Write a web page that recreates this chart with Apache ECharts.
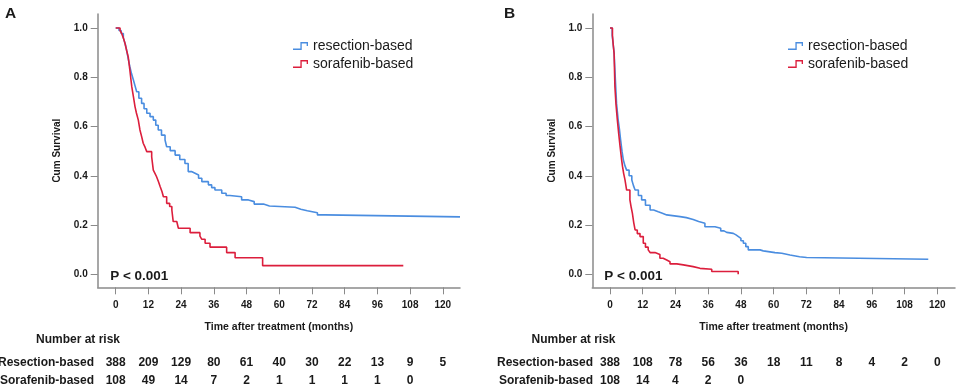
<!DOCTYPE html>
<html>
<head>
<meta charset="utf-8">
<script src="https://cdn.jsdelivr.net/npm/echarts@6/dist/echarts.min.js"></script>
<style>
html,body{margin:0;padding:0;background:#fff;}
#main{width:957px;height:390px;}
</style>
</head>
<body>
<div id="main"></div>
<script>
// ---------- data ----------
const seriesNames = ['resection-based', 'sorafenib-based'];
const xTicks = [0, 12, 24, 36, 48, 60, 72, 84, 96, 108, 120];
const yTicks = [0, 0.2, 0.4, 0.6, 0.8, 1.0];
const xTitle = 'Time after treatment (months)';
const yTitle = 'Cum Survival';
const pText = 'P < 0.001';
const panelLabels = ['A', 'B'];
const riskRowLabels = ['Resection-based', 'Sorafenib-based'];

// Panel A: Kaplan-Meier steps [months, survival]
const resectionA = [
  [0,1.0],[1.2,0.99],[2.0,0.978],[2.8,0.96],[3.5,0.935],[4.0,0.91],[4.6,0.875],[5.2,0.843],
  [5.8,0.815],[6.5,0.789],[7.1,0.765],[7.7,0.741],[8.5,0.715],[9.5,0.694],[10.4,0.672],
  [11.4,0.654],[12.6,0.64],[13.8,0.626],[14.7,0.605],[15.6,0.586],[16.8,0.565],[18.1,0.545],
  [18.7,0.518],[20.0,0.502],[21.8,0.484],[23.5,0.466],[25.4,0.45],[26.6,0.417],[27.8,0.41],
  [29.1,0.403],[30.4,0.39],[31.6,0.376],[34.0,0.363],[35.2,0.352],[36.4,0.342],[38.9,0.329],
  [40.5,0.32],[41.9,0.315],[46.2,0.302],[48.7,0.295],[50.8,0.285],[54.2,0.277],[56.4,0.272],
  [65.8,0.264],[67.9,0.258],[70.3,0.25],[74.0,0.241],[76.8,0.233],[126.3,0.233]
];
const sorafenibA = [
  [0,1.0],[1.6,0.99],[2.2,0.978],[2.8,0.96],[3.4,0.938],[4.0,0.91],[4.6,0.883],[5.2,0.829],
  [5.6,0.79],[5.9,0.762],[6.5,0.721],[7.1,0.68],[7.6,0.655],[8.3,0.626],[8.9,0.586],[9.5,0.56],
  [10.1,0.532],[10.8,0.515],[11.4,0.498],[13.2,0.477],[13.8,0.423],[14.4,0.41],[15.0,0.396],
  [15.7,0.376],[16.3,0.356],[17.0,0.335],[17.5,0.315],[18.7,0.288],[19.8,0.275],[20.6,0.261],
  [21.1,0.214],[22.4,0.207],[23.0,0.187],[27.3,0.169],[30.9,0.155],[31.6,0.142],[32.8,0.126],
  [34.6,0.11],[40.7,0.088],[43.8,0.067],[53.9,0.035],[105.5,0.035]
];
// Panel B
const resectionB = [
  [0,1.0],[0.8,0.97],[1.2,0.93],[1.5,0.9],[1.8,0.829],[2.1,0.76],[2.4,0.694],[2.7,0.66],
  [3.0,0.626],[3.5,0.585],[3.9,0.545],[4.4,0.5],[4.9,0.464],[5.5,0.44],[6.1,0.423],[7.0,0.4],
  [8.0,0.383],[8.6,0.36],[9.2,0.342],[10.4,0.32],[11.6,0.302],[13.0,0.28],[14.7,0.261],
  [16.0,0.254],[17.7,0.248],[19.2,0.241],[20.8,0.234],[25.7,0.23],[28.0,0.222],[30.5,0.214],
  [32.5,0.207],[34.8,0.193],[38.5,0.187],[40.6,0.176],[41.8,0.17],[42.8,0.166],[45.2,0.16],
  [46.2,0.153],[47.1,0.146],[48.0,0.136],[48.9,0.126],[49.8,0.112],[50.7,0.099],[55.0,0.095],
  [56.2,0.088],[60.5,0.085],[63.0,0.078],[66.0,0.071],[69.5,0.068],[72.1,0.061],[116.7,0.061]
];
const sorafenibB = [
  [0,1.0],[0.9,0.97],[1.2,0.93],[1.5,0.897],[1.8,0.762],[2.2,0.69],[2.7,0.626],[3.2,0.57],
  [3.7,0.518],[4.2,0.47],[4.6,0.437],[5.0,0.41],[5.5,0.383],[6.1,0.342],[7.3,0.302],[7.8,0.27],
  [8.2,0.248],[8.7,0.21],[9.2,0.18],[10.0,0.165],[11.0,0.153],[12.2,0.126],[13.0,0.11],
  [14.0,0.099],[14.7,0.088],[16.5,0.08],[18.3,0.065],[19.5,0.058],[20.8,0.051],[22.0,0.042],
  [24.5,0.038],[26.9,0.031],[30.5,0.024],[33.0,0.02],[37.3,0.011],[47.0,0.0]
];

// Number at risk
const riskTimesA = [0, 12, 24, 36, 48, 60, 72, 84, 96, 108, 120];
const riskResectionA = [388, 209, 129, 80, 61, 40, 30, 22, 13, 9, 5];
const riskSorafenibA = [108, 49, 14, 7, 2, 1, 1, 1, 1, 0];
const riskTimesB = [0, 12, 24, 36, 48, 60, 72, 84, 96, 108, 120];
const riskResectionB = [388, 108, 78, 56, 36, 18, 11, 8, 4, 2, 0];
const riskSorafenibB = [108, 14, 4, 2, 0];

// ---------- chart ----------
const FONT = '"Liberation Sans", Arial, sans-serif';
const BLUE = '#4a8de0';
const RED = '#dc1e3c';
const AXIS = '#8a8a8a';
const TXT = '#1a1a1a';

const chart = echarts.init(document.getElementById('main'), null, {renderer: 'canvas'});

const grids = [
  {left: 97.7, top: 14, width: 362.3, height: 273.3},
  {left: 592.3, top: 14, width: 362.7, height: 273.3}
];
const xRanges = [[-6.6, 126.3], [-6.49, 126.5]];

function xAxisDef(i) {
  return {
    type: 'value', gridIndex: i, min: xRanges[i][0], max: xRanges[i][1],
    splitLine: {show: false},
    axisLine: {show: true, onZero: false, lineStyle: {color: AXIS, width: 1.5}},
    axisTick: {show: true, length: 7, lineStyle: {color: AXIS, width: 1}, customValues: xTicks},
    axisLabel: {customValues: xTicks, margin: 13, fontSize: 10, fontWeight: 'bold', color: TXT, fontFamily: FONT},
    name: xTitle, nameLocation: 'middle', nameGap: 34,
    nameTextStyle: {fontSize: 10.5, fontWeight: 'bold', color: TXT, fontFamily: FONT}
  };
}
function yAxisDef(i) {
  return {
    type: 'value', gridIndex: i, min: -0.053, max: 1.057,
    splitLine: {show: false},
    axisLine: {show: true, onZero: false, lineStyle: {color: AXIS, width: 1.5}},
    axisTick: {show: true, length: 7, lineStyle: {color: AXIS, width: 1}, customValues: yTicks},
    axisLabel: {customValues: yTicks, margin: 10, fontSize: 10, fontWeight: 'bold', color: TXT, fontFamily: FONT,
      formatter: v => v.toFixed(1)},
    name: yTitle, nameLocation: 'middle', nameGap: 35, nameRotate: 90,
    nameTextStyle: {fontSize: 10, fontWeight: 'bold', color: TXT, fontFamily: FONT}
  };
}
function km(name, data, i, color) {
  return {
    name: name, type: 'line', step: 'end', xAxisIndex: i, yAxisIndex: i,
    data: data, showSymbol: false, symbol: 'none', animation: false,
    lineStyle: {color: color, width: 1.6}, itemStyle: {color: color}
  };
}
const stepIcon = 'path://M0,7.25 L8.25,7.25 L8.25,0 L16.75,0 L16.75,4.5 L15.25,4.5 L15.25,1.5 L9.75,1.5 L9.75,8.75 L0,8.75 Z';
function legendDef(left) {
  return {
    left: left, top: 34, orient: 'vertical', itemGap: 4, itemWidth: 15, itemHeight: 9,
    icon: stepIcon, data: seriesNames, selectedMode: false,
    itemStyle: {borderWidth: 0},
    textStyle: {fontSize: 14, color: TXT, fontFamily: FONT}
  };
}

const option = {
  animation: false,
  backgroundColor: '#fff',
  grid: grids.map(g => Object.assign({containLabel: false, outerBoundsMode: 'none'}, g)),
  xAxis: [xAxisDef(0), xAxisDef(1)],
  yAxis: [yAxisDef(0), yAxisDef(1)],
  legend: [legendDef(288), legendDef(783)],
  series: [
    km(seriesNames[0], resectionA, 0, BLUE),
    km(seriesNames[1], sorafenibA, 0, RED),
    km(seriesNames[0], resectionB, 1, BLUE),
    km(seriesNames[1], sorafenibB, 1, RED)
  ]
};
chart.setOption(option);

// text overlay positioned from the axes
const graphics = [];
function txt(x, y, text, size, align, weight) {
  graphics.push({type: 'text', x: x, y: y, silent: true,
    style: {text: text, fontSize: size, fontWeight: weight || 'bold', fill: TXT, fontFamily: FONT,
      align: align || 'left', verticalAlign: 'middle'}});
}
txt(5, 14, panelLabels[0], 15.5);
txt(504, 14, panelLabels[1], 15.5);
const pPosA = chart.convertToPixel({gridIndex: 0}, [0, 0]);
const pPosB = chart.convertToPixel({gridIndex: 1}, [0, 0]);
txt(pPosA[0] - 5.5, 276, pText, 13.5);
txt(pPosB[0] - 5.7, 276, pText, 13.5);

const riskTitleX = [36, 531.5];
const rowLabelX = [94, 593];
const rowY = [362.5, 381];
const panels = [
  {times: riskTimesA, rows: [riskResectionA, riskSorafenibA]},
  {times: riskTimesB, rows: [riskResectionB, riskSorafenibB]}
];
panels.forEach((p, i) => {
  txt(riskTitleX[i], 339.5, 'Number at risk', 12);
  p.rows.forEach((row, r) => {
    txt(rowLabelX[i], rowY[r], riskRowLabels[r], 12, 'right');
    row.forEach((v, k) => {
      const x = chart.convertToPixel({xAxisIndex: i}, p.times[k]);
      txt(x, rowY[r], String(v), 12, 'center');
    });
  });
});
chart.setOption({graphic: graphics});
</script>
</body>
</html>
